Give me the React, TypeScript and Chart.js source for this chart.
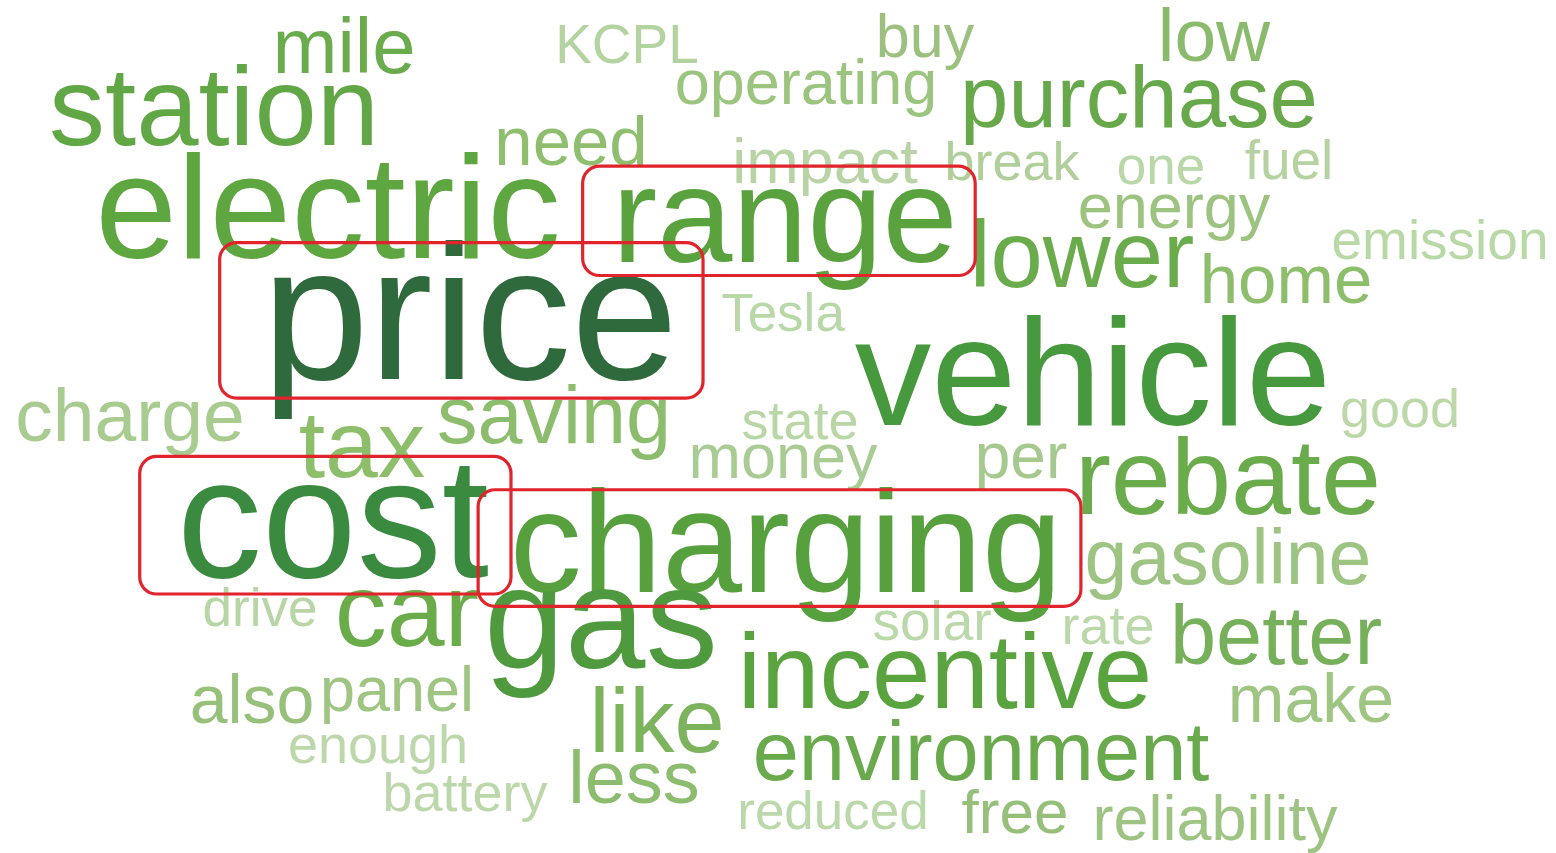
import React, { useEffect, useRef } from 'react';
import { Chart, registerables } from 'chart.js';

Chart.register(...registerables);

// ---- data ----
const words = [
  'mile', 'station', 'KCPL', 'buy', 'low', 'operating', 'purchase', 'need', 'electric', 'impact',
  'break', 'one', 'fuel', 'range', 'energy', 'lower', 'emission', 'home', 'price', 'Tesla',
  'vehicle', 'charge', 'tax', 'saving', 'state', 'good', 'money', 'per', 'rebate', 'cost',
  'charging', 'gasoline', 'drive', 'car', 'gas', 'solar', 'rate', 'better', 'incentive', 'also',
  'panel', 'like', 'make', 'enough', 'environment', 'battery', 'less', 'reduced', 'free', 'reliability',
];
// layout position of each word (centre x, baseline y) in the cloud's 1556 x 853 space
const wordX = [
  344, 214, 627, 925, 1214, 806, 1139, 571, 328, 825,
  1012, 1161, 1289, 785, 1174, 1082, 1440, 1286, 470, 783,
  1093, 130, 362, 554, 800, 1400, 783, 1021, 1228, 333,
  786, 1228, 260, 407, 601, 932, 1108, 1276, 945, 252,
  397, 657, 1311, 378, 981, 465, 634, 833, 1015, 1215,
];
const wordY = [
  73, 145, 63, 57, 61, 104, 127, 165, 258, 183,
  180, 184, 179, 262, 228, 287, 259, 303, 379, 331,
  425, 441, 477, 443, 439, 427, 478, 478, 514, 577,
  592, 584, 626, 646, 668, 640, 644, 664, 708, 723,
  711, 752, 722, 763, 780, 811, 803, 829, 833, 840,
];
// word weight (rendered font size)
const weights = [
  78, 112, 55, 61, 75, 63, 87, 69, 147, 63,
  54, 53, 55, 135, 63, 94, 55, 69, 192, 53,
  153, 75, 95, 81, 54, 54, 63, 64, 108, 170,
  144, 77, 53, 104, 145, 55, 54, 83, 105, 68,
  63, 90, 68, 54, 83, 54, 74, 53, 62, 63,
];
const wordColors = [
  '#6aab4d', '#62a745', '#b3d3a0', '#9cc17f', '#8aba6b', '#9bc47f', '#67a94a', '#8fbf6e', '#5ea640', '#b8d4a5',
  '#b0cf9a', '#b8d8a8', '#b5d3a0', '#5aa23e', '#9cc37f', '#6aac4c', '#b8d8a5', '#8cbe6c', '#2e6a3b', '#b8d8a8',
  '#47993d', '#a8cb8f', '#8dbf6b', '#8cbd6c', '#b9d6a6', '#bcd8a9', '#a9cc94', '#a5c98e', '#6aab4c', '#3a8a40',
  '#56a03d', '#9dc482', '#b8d6a5', '#6aab4a', '#4f9a3f', '#bbd8aa', '#bbd8aa', '#77b05a', '#5aa43f', '#97c17a',
  '#9ec582', '#7cb45e', '#9ec582', '#bcd8ab', '#68aa4c', '#bcd8ab', '#8cbd6e', '#bbd8aa', '#96c07a', '#9dc482',
];
const highlighted = ['range', 'price', 'cost', 'charging'];

const W = 1556;
const H = 853;
const FONT = '"Liberation Sans", Arial, sans-serif';

const wordCloudPlugin = {
  id: 'wordCloud',
  afterDatasetsDraw(chart: any) {
    const ctx = chart.ctx as CanvasRenderingContext2D;
    const meta = chart.getDatasetMeta(0);
    ctx.save();
    ctx.textAlign = 'center';
    ctx.textBaseline = 'alphabetic';
    meta.data.forEach((pt: any, i: number) => {
      ctx.font = `${weights[i]}px ${FONT}`;
      ctx.fillStyle = wordColors[i];
      ctx.fillText(words[i], pt.x, pt.y);
    });
    // highlight boxes around the emphasised words
    ctx.strokeStyle = '#e1232c';
    ctx.lineWidth = 3.2;
    highlighted.forEach((w) => {
      const i = words.indexOf(w);
      if (i < 0) return;
      const pt = meta.data[i];
      const s = weights[i];
      ctx.font = `${s}px ${FONT}`;
      const tw = ctx.measureText(words[i]).width;
      const left = pt.x - tw / 2 - 0.22 * s;
      const right = pt.x + tw / 2 + 0.13 * s;
      const top = pt.y - 0.71 * s;
      const bottom = pt.y + 0.1 * s;
      ctx.beginPath();
      (ctx as any).roundRect(left, top, right - left, bottom - top, 17);
      ctx.stroke();
    });
    ctx.restore();
  },
};

export default function App() {
  const ref = useRef<HTMLCanvasElement | null>(null);
  useEffect(() => {
    if (!ref.current) return;
    const chart = new Chart(ref.current, {
      type: 'scatter',
      data: {
        datasets: [
          {
            data: words.map((_, i) => ({ x: wordX[i], y: wordY[i] })),
            pointRadius: 0,
            pointHoverRadius: 0,
          },
        ],
      },
      options: {
        animation: false,
        responsive: false,
        layout: { padding: 0 },
        plugins: { legend: { display: false }, tooltip: { enabled: false } },
        scales: {
          x: { type: 'linear', min: 0, max: W, display: false },
          y: { type: 'linear', min: 0, max: H, reverse: true, display: false },
        },
      },
      plugins: [wordCloudPlugin],
    });
    return () => chart.destroy();
  }, []);
  return (
    <div style={{ position: 'fixed', left: 0, top: 0, width: W, height: H, background: '#ffffff' }}>
      <canvas ref={ref} width={W} height={H} style={{ display: 'block', width: W, height: H }} />
    </div>
  );
}
